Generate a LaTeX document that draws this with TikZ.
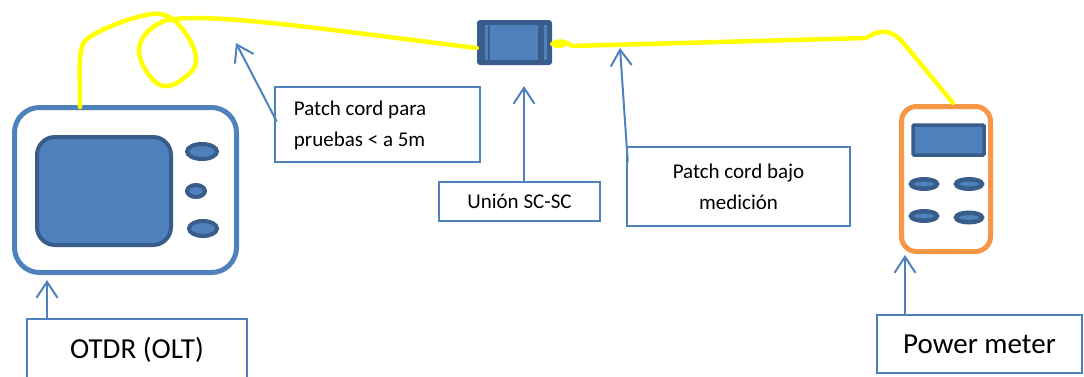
\documentclass[tikz,border=0pt]{standalone}
\usepackage{fontspec}
\setmainfont{Carlito}
\usepackage{tikz}
\usetikzlibrary{positioning,arrows.meta,calc,shapes.geometric}
\definecolor{officeblue}{HTML}{4F81BD}
\definecolor{deepblue}{HTML}{385D8A}
\definecolor{meterorange}{HTML}{F79646}
\definecolor{fibre}{HTML}{FFFF00}
\tikzset{
  labelbox/.style={draw=officeblue, line width=2.5pt, fill=white, align=center, inner sep=0pt, font=\fontsize{21}{31}\selectfont},
  labeltext/.style={inner sep=0pt, align=left, font=\fontsize{21}{31}\selectfont},
  bigbox/.style={labelbox, font=\fontsize{29}{34}\selectfont},
  otdrcase/.style={draw=officeblue, line width=5pt, rounded corners=25pt, fill=white, inner sep=0pt},
  metercase/.style={draw=meterorange, line width=5pt, rounded corners=15pt, fill=white, inner sep=0pt},
  screen/.style={draw=deepblue, line width=4pt, rounded corners=18pt, fill=officeblue, inner sep=0pt},
  display/.style={draw=deepblue, line width=3.5pt, rounded corners=1pt, fill=officeblue, inner sep=0pt},
  knob/.style={ellipse, draw=deepblue, fill=officeblue, line width=4pt, inner sep=0pt},
  keypad/.style={ellipse, draw=deepblue, fill=officeblue, line width=4.5pt, inner sep=0pt, minimum width=26pt, minimum height=9.5pt},
  pointer/.style={-{Straight Barb[length=16pt,width=21pt,line width=2pt]}, line width=2pt, draw=officeblue},
  cable/.style={draw=fibre, line width=4.5pt, line cap=round, line join=round}
}

\begin{document}
\begin{tikzpicture}[x=1pt,y=-1pt]
  \useasboundingbox (0,0) rectangle (1084,376);
  \clip (0,0) rectangle (1084,376);
  % OTDR
  \node[otdrcase, minimum width=222pt, minimum height=165pt] (otdr) at (125.5,190) {};
  \node[screen, minimum width=134pt, minimum height=108pt] (otdrscreen) at (104,191) {};
  \node[knob, minimum width=30pt, minimum height=15pt] (knoba) at (202,151.5) {};
  \node[knob, minimum width=18pt, minimum height=12pt] (knobb) at (196,191) {};
  \node[knob, minimum width=28pt, minimum height=15pt] (knobc) at (203,228.5) {};
  % SC-SC adapter
  \node[fill=deepblue, rounded corners=3pt, minimum width=75pt, minimum height=45pt, inner sep=0pt] (adapter) at (514.5,42.5) {};
  \node[fill=officeblue, minimum width=48pt, minimum height=35pt, inner sep=0pt] (adaptercore) at (514,42.5) {};
  \node[fill=officeblue, minimum width=3pt, minimum height=35pt, inner sep=0pt] (latchl) at (486,42.5) {};
  \node[fill=officeblue, minimum width=3pt, minimum height=35pt, inner sep=0pt] (latchr) at (545,42.5) {};
  % power meter
  \node[metercase, minimum width=89pt, minimum height=145pt] (meter) at (946,179) {};
  \node[display, minimum width=71pt, minimum height=30pt] (meterdisplay) at (948.5,140) {};
  \node[keypad] (keya) at (924,184) {};
  \node[keypad] (keyb) at (969,184) {};
  \node[keypad] (keyc) at (924,216) {};
  \node[keypad] (keyd) at (969,217.5) {};
  % fibre
  \coordinate (otdrport) at (80,107);
  \coordinate (meterport) at (953,103);
  \draw[cable] (otdrport) .. controls (80,70) and (78,52) .. (84,42)
    .. controls (92,32) and (130,17) .. (152,14)
    .. controls (166,12) and (176,20) .. (184,31)
    .. controls (194,45) and (202,62) .. (190,73)
    .. controls (180,82) and (170,89) .. (160,85)
    .. controls (150,80) and (140,64) .. (139,52)
    .. controls (138,38) and (152,24) .. (168,20)
    .. controls (210,12) and (330,30) .. (adapter.west |- 0,48);
  \draw[cable] (adapter.east |- 0,44) .. controls (556,40) and (566,41) .. (572,46)
    -- (866,38) .. controls (874,33) and (880,31) .. (886,32)
    .. controls (894,33) and (898,37) .. (906,46) -- (meterport);
  \fill[fibre] (559,44) ellipse [x radius=8pt, y radius=4pt];
  % labels
  \node[labelbox, minimum width=205pt, minimum height=75pt] (prueba) at (377.5,124.5) {};
  \node[labeltext, anchor=west] (pruebatext) at ($(prueba.west)+(20,1)$) {Patch cord para\\pruebas < a 5m};
  \node[labelbox, minimum width=161pt, minimum height=39pt] (union) at (519.5,201.5) {Unión SC-SC};
  \node[labelbox, minimum width=223pt, minimum height=79pt] (medicion) at (738.5,186.5) {Patch cord bajo\\medición};
  \node[bigbox, minimum width=220pt, minimum height=62pt] (otdrlabel) at (137,350) {OTDR (OLT)};
  \node[bigbox, minimum width=205pt, minimum height=58pt] (meterlabel) at (979.5,344) {Power meter};
  % pointers
  \coordinate (cordtip) at (236,43);
  \coordinate (uniontip) at (524,86);
  \coordinate (measuretip) at (620,48);
  \coordinate (otdrtip) at (47,280);
  \coordinate (metertip) at (905,255);
  \draw[pointer] (prueba.west) ++(3,-3) -- (cordtip);
  \draw[pointer] (union.north -| uniontip) -- (uniontip);
  \draw[pointer] ($(medicion.north west)+(2,16)$) -- (measuretip);
  \draw[pointer] (otdrlabel.north -| otdrtip) -- (otdrtip);
  \draw[pointer] (meterlabel.north -| metertip) -- (metertip);
\end{tikzpicture}
\end{document}
